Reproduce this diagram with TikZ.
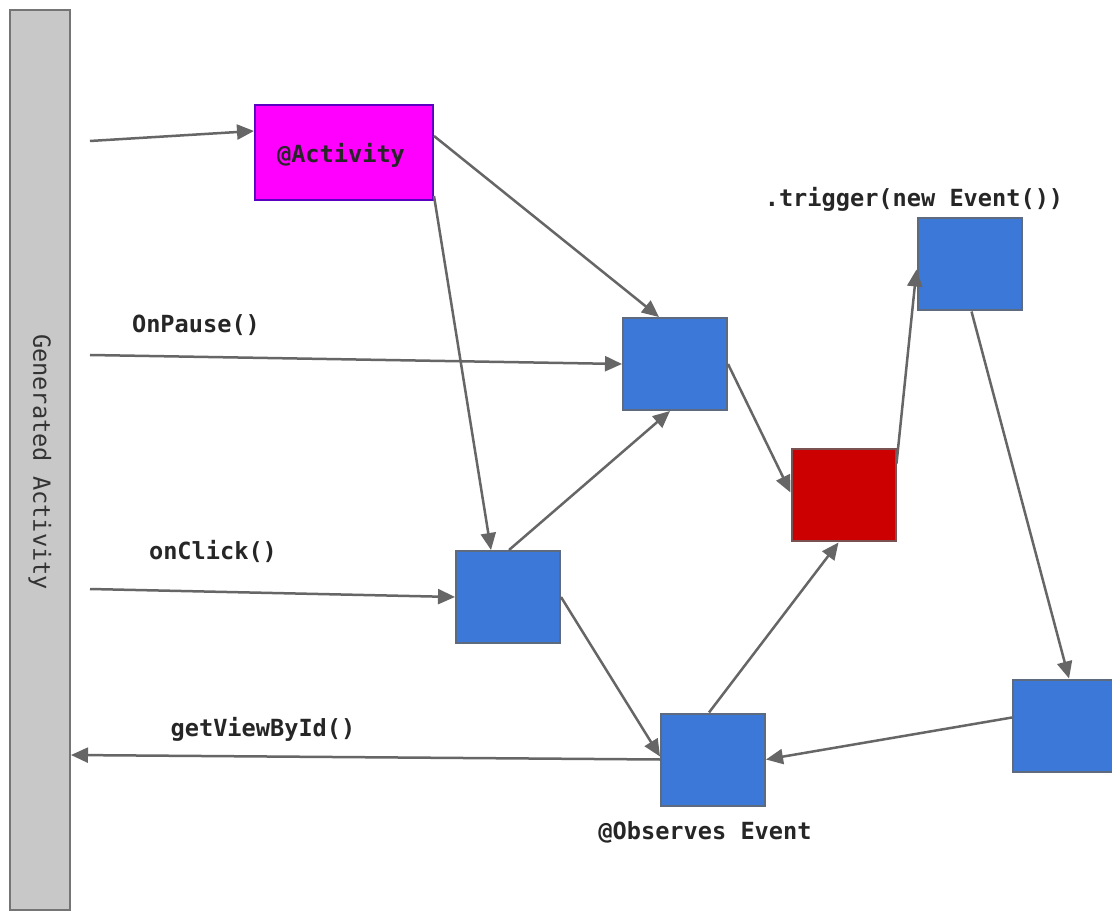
\documentclass[tikz,border=0pt]{standalone}
\usepackage{fontspec}
\setmonofont{DejaVu Sans Mono}
\usetikzlibrary{arrows.meta,calc}
\definecolor{boxblue}{HTML}{3C78D8}
\definecolor{boxred}{HTML}{CC0000}
\definecolor{boxpink}{HTML}{FF00FF}
\definecolor{bargray}{HTML}{C8C8C8}
\definecolor{linegray}{HTML}{666666}
\tikzset{
  blk/.style={draw=linegray!80!boxblue, line width=1pt, fill=boxblue, minimum width=52pt, minimum height=46pt, inner sep=0pt},
  lbl/.style={font=\fontsize{11.8}{14}\selectfont\ttfamily\bfseries, text=black!85},
  conn/.style={draw=linegray, line width=1.25pt, -{Triangle[length=8.5pt,width=7.5pt]}}
}
\begin{document}
\begin{tikzpicture}[x=0.5pt,y=-0.5pt]
    \clip (0,0) rectangle (1112,913);
    \fill[white] (0,0) rectangle (1112,913);

    % activity bar
    \node[draw=linegray!90, line width=1pt, fill=bargray, minimum width=30pt, minimum height=450pt, inner sep=0pt] (bar) at (40,460) {};
    \node[font=\fontsize{11.8}{14}\selectfont\ttfamily, text=black!80, rotate=-90] (bartxt) at (40,462) {Generated Activity};

    % boxes
    \node[draw=black!40!boxpink!60!blue, line width=1pt, fill=boxpink, minimum width=89pt, minimum height=47.5pt, inner sep=0pt] (act) at (344,152.5) {};
    \node[lbl, anchor=west] (acttxt) at (270,155) {@Activity};
    \node[blk] (pause) at (675,364) {};
    \node[blk] (trg) at (969.5,264.5) {};
    \node[blk, fill=boxred, draw=linegray!80!boxred] (bus) at (843.5,495.5) {};
    \node[blk] (click) at (508,597) {};
    \node[blk] (obs) at (713,759.5) {};
    \node[blk] (rgt) at (1065,725.5) {};

    % labels
    \node[lbl] (pausetxt) at (196,325) {OnPause()};
    \node[lbl] (clicktxt) at (213,551) {onClick()};
    \node[lbl] (gettxt) at (263,729) {getViewById()};
    \node[lbl] (trgtxt) at (914,199) {.trigger(new Event())};
    \node[lbl] (obstxt) at (705,832) {@Observes Event};

    % free ends
    \coordinate (inA) at (90,141);
    \coordinate (inP) at (90,355);
    \coordinate (inC) at (90,589);

    % connectors
    \draw[conn] (inA) -- ($(act.north west)+(0,27)$);
    \draw[conn] ($(act.north east)+(0,32)$) -- ($(pause.north west)+(37,0)$);
    \draw[conn] ($(act.south east)+(0,-5)$) -- ($(click.north west)+(36,0)$);
    \draw[conn] (inP) -- (pause.west);
    \draw[conn] (inC) -- (click.west);
    \draw[conn] ($(click.north west)+(54,0)$) -- ($(pause.south west)+(48,0)$);
    \draw[conn] (pause.east) -- ($(bus.west)+(0,-3)$);
    \draw[conn] ($(bus.north east)+(0,15)$) -- ($(trg.north west)+(0,52)$);
    \draw[conn] ($(trg.south west)+(55,0)$) -- ($(rgt.north west)+(57,0)$);
    \draw[conn] ($(rgt.west)+(0,-8)$) -- (obs.east);
    \draw[conn] (click.east) -- ($(obs.west)+(0,-3)$);
    \draw[conn] ($(obs.north west)+(49,0)$) -- ($(bus.south west)+(48,0)$);
    \draw[conn] (obs.west) -- ($(bar.east)+(0,295)$);
\end{tikzpicture}
\end{document}
